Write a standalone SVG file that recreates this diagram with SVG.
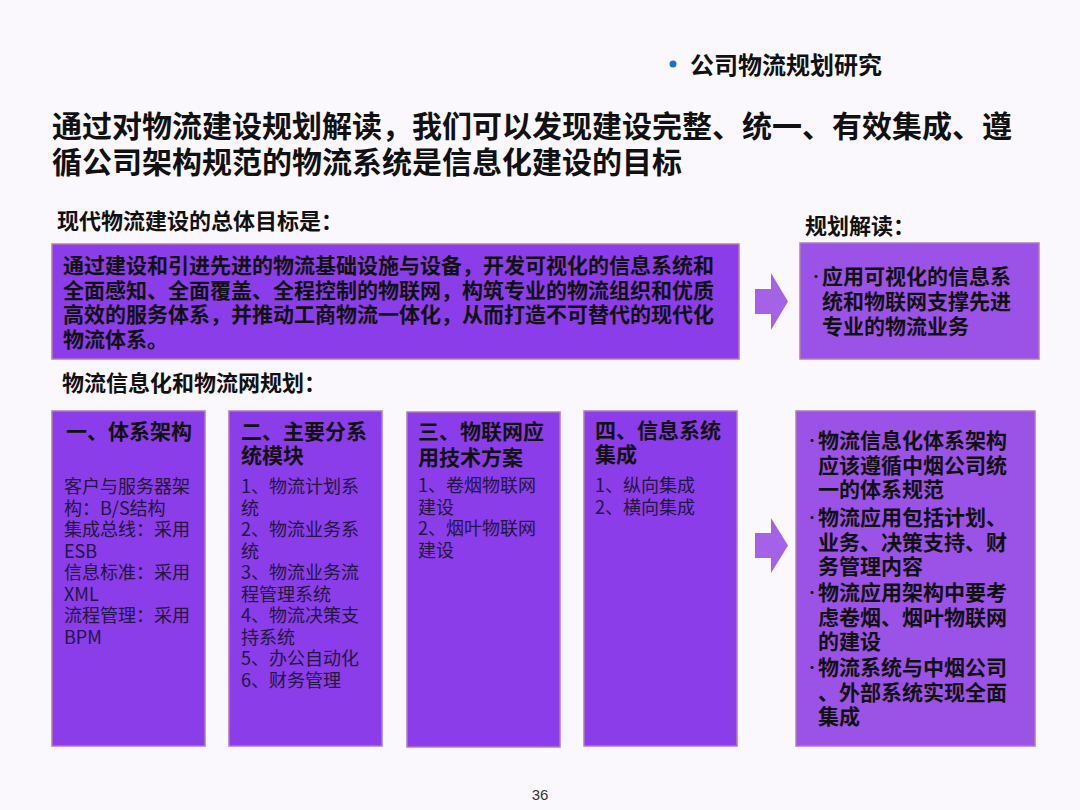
<svg xmlns="http://www.w3.org/2000/svg" width="1080" height="810" viewBox="0 0 1080 810">
<style>
text{font-family:"Noto Sans CJK SC","Noto Sans",sans-serif;}
.b{font-weight:700;fill:#111;}
.t30{font-size:30px;}
.t22{font-size:22px;}
.t21{font-size:21px;}
.body{font-size:18px;fill:#231640;}
.box{fill:#8a3de8;stroke:#b47ab8;stroke-width:1.5;}
.box2{fill:#9b52e6;stroke:#b47ab8;stroke-width:1.5;}
.arrow{fill:#a463e6;}
.dot{font-size:12px;fill:#111;font-weight:700;}
</style>
<rect width="1080" height="810" fill="#faf8fd"/>
<g id="header">
<circle cx="673" cy="64" r="3.5" fill="#1f6fd0"/>
<text x="690" y="74" class="b" style="font-size:24px">公司物流规划研究</text>
<text x="52" y="137" class="b t30">通过对物流建设规划解读，我们可以发现建设完整、统一、有效集成、遵</text>
<text x="52" y="173" class="b t30">循公司架构规范的物流系统是信息化建设的目标</text>
</g>
<g id="label-goal"><text x="57" y="229" class="b t22">现代物流建设的总体目标是：</text></g>
<g id="label-interpret"><text x="805" y="234" class="b t22">规划解读：</text></g>
<g id="label-plan"><text x="62" y="391" class="b t22">物流信息化和物流网规划：</text></g>
<g id="goal-box">
<rect x="52" y="244" width="687" height="115" class="box"/>
<text class="b t21"><tspan x="63" y="273">通过建设和引进先进的物流基础设施与设备，开发可视化的信息系统和</tspan><tspan x="63" y="297.5">全面感知、全面覆盖、全程控制的物联网，构筑专业的物流组织和优质</tspan><tspan x="63" y="322">高效的服务体系，并推动工商物流一体化，从而打造不可替代的现代化</tspan><tspan x="63" y="346.5">物流体系。</tspan></text>
</g>
<g id="interpret-box">
<rect x="800" y="243" width="239" height="116" class="box2"/>
<text x="810" y="282" class="dot">•</text>
<text class="b t21"><tspan x="822" y="284">应用可视化的信息系</tspan><tspan x="822" y="309">统和物联网支撑先进</tspan><tspan x="822" y="334">专业的物流业务</tspan></text>
</g>
<g id="col1">
<rect x="52" y="411" width="153" height="335" class="box"/>
<text x="66" y="439" class="b t21">一、体系架构</text>
<text class="body"><tspan x="64" y="493">客户与服务器架</tspan><tspan x="64" y="514.5">构：B/S结构</tspan><tspan x="64" y="536">集成总线：采用</tspan><tspan x="64" y="557.5">ESB</tspan><tspan x="64" y="579">信息标准：采用</tspan><tspan x="64" y="600.5">XML</tspan><tspan x="64" y="622">流程管理：采用</tspan><tspan x="64" y="643.5">BPM</tspan></text>
</g>
<g id="col2">
<rect x="229" y="411" width="153" height="335" class="box"/>
<text class="b t21"><tspan x="241" y="439">二、主要分系</tspan><tspan x="241" y="463">统模块</tspan></text>
<text class="body"><tspan x="241" y="493">1、物流计划系</tspan><tspan x="241" y="514.5">统</tspan><tspan x="241" y="536">2、物流业务系</tspan><tspan x="241" y="557.5">统</tspan><tspan x="241" y="579">3、物流业务流</tspan><tspan x="241" y="600.5">程管理系统</tspan><tspan x="241" y="622">4、物流决策支</tspan><tspan x="241" y="643.5">持系统</tspan><tspan x="241" y="665">5、办公自动化</tspan><tspan x="241" y="686.5">6、财务管理</tspan></text>
</g>
<g id="col3">
<rect x="407" y="412" width="153" height="335" class="box"/>
<text class="b t21"><tspan x="418" y="439">三、物联网应</tspan><tspan x="418" y="465">用技术方案</tspan></text>
<text class="body"><tspan x="418" y="492">1、卷烟物联网</tspan><tspan x="418" y="513.5">建设</tspan><tspan x="418" y="535">2、烟叶物联网</tspan><tspan x="418" y="556.5">建设</tspan></text>
</g>
<g id="col4">
<rect x="584" y="411" width="153" height="335" class="box"/>
<text class="b t21"><tspan x="595" y="438">四、信息系统</tspan><tspan x="595" y="462">集成</tspan></text>
<text class="body"><tspan x="595" y="492">1、纵向集成</tspan><tspan x="595" y="513.5">2、横向集成</tspan></text>
</g>
<g id="summary-box">
<rect x="796" y="411" width="239" height="335" class="box2"/>
<text class="dot"><tspan x="806" y="446">•</tspan><tspan x="806" y="523">•</tspan><tspan x="806" y="598">•</tspan><tspan x="806" y="673">•</tspan></text>
<text class="b t21"><tspan x="818" y="448">物流信息化体系架构</tspan><tspan x="818" y="473">应该遵循中烟公司统</tspan><tspan x="818" y="497">一的体系规范</tspan><tspan x="818" y="525">物流应用包括计划、</tspan><tspan x="818" y="550">业务、决策支持、财</tspan><tspan x="818" y="574">务管理内容</tspan><tspan x="818" y="600">物流应用架构中要考</tspan><tspan x="818" y="625">虑卷烟、烟叶物联网</tspan><tspan x="818" y="649">的建设</tspan><tspan x="818" y="675">物流系统与中烟公司</tspan><tspan x="818" y="700">、外部系统实现全面</tspan><tspan x="818" y="724">集成</tspan></text>
</g>
<g id="connectors">
<polygon class="arrow" points="755,289 771,289 771,273 788,301.5 771,330 771,314 755,314"/>
<polygon class="arrow" points="755,533 771,533 771,518 788,545.5 771,573 771,558 755,558"/>
</g>
<g id="footer"><text x="540" y="800" text-anchor="middle" style="font-size:15px;fill:#333;font-family:'Liberation Sans',Arial,sans-serif">36</text></g>
</svg>
